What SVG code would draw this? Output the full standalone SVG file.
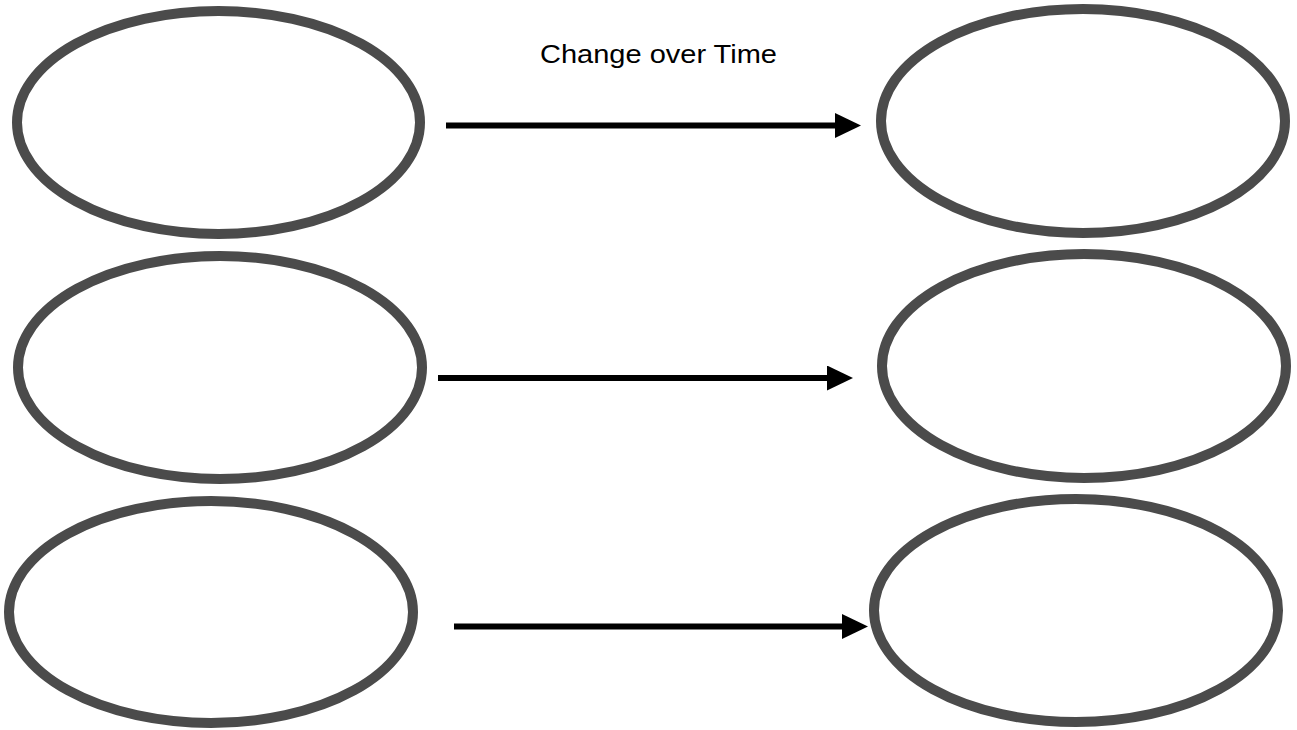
<svg xmlns="http://www.w3.org/2000/svg" width="1297" height="730" viewBox="0 0 1297 730">
  <style>
    .node { fill: #ffffff; stroke: #4b4b4b; stroke-width: 10; }
    .conn { fill: none; stroke: #000000; stroke-width: 6; }
    .label { font-family: "Liberation Sans", Arial, Helvetica, sans-serif; font-size: 25px; fill: #000000; }
  </style>
  <defs>
    <marker id="arrow" markerUnits="userSpaceOnUse" markerWidth="26" markerHeight="25" refX="6" refY="12.5" orient="auto">
      <path d="M0,0 L26,12.5 L0,25 Z" fill="#000000"/>
    </marker>
  </defs>
  <rect x="0" y="0" width="1297" height="730" fill="#ffffff"/>
  <g id="node-left-1"><ellipse class="node" cx="218.5" cy="122.5" rx="201.5" ry="111.5"/></g>
  <g id="node-right-1"><ellipse class="node" cx="1083" cy="121" rx="202" ry="112"/></g>
  <g id="node-left-2"><ellipse class="node" cx="220" cy="367.5" rx="202" ry="111.5"/></g>
  <g id="node-right-2"><ellipse class="node" cx="1084" cy="366" rx="202" ry="112"/></g>
  <g id="node-left-3"><ellipse class="node" cx="211" cy="612" rx="202" ry="111"/></g>
  <g id="node-right-3"><ellipse class="node" cx="1076" cy="610.5" rx="202" ry="111.5"/></g>
  <g id="connectors">
    <line class="conn" x1="446" y1="125.5" x2="841" y2="125.5" marker-end="url(#arrow)"/>
    <line class="conn" x1="438" y1="378" x2="833" y2="378" marker-end="url(#arrow)"/>
    <line class="conn" x1="454" y1="626.5" x2="848" y2="626.5" marker-end="url(#arrow)"/>
  </g>
  <g id="label-change">
    <text class="label" x="540" y="63" textLength="237" lengthAdjust="spacingAndGlyphs">Change over Time</text>
  </g>
</svg>
